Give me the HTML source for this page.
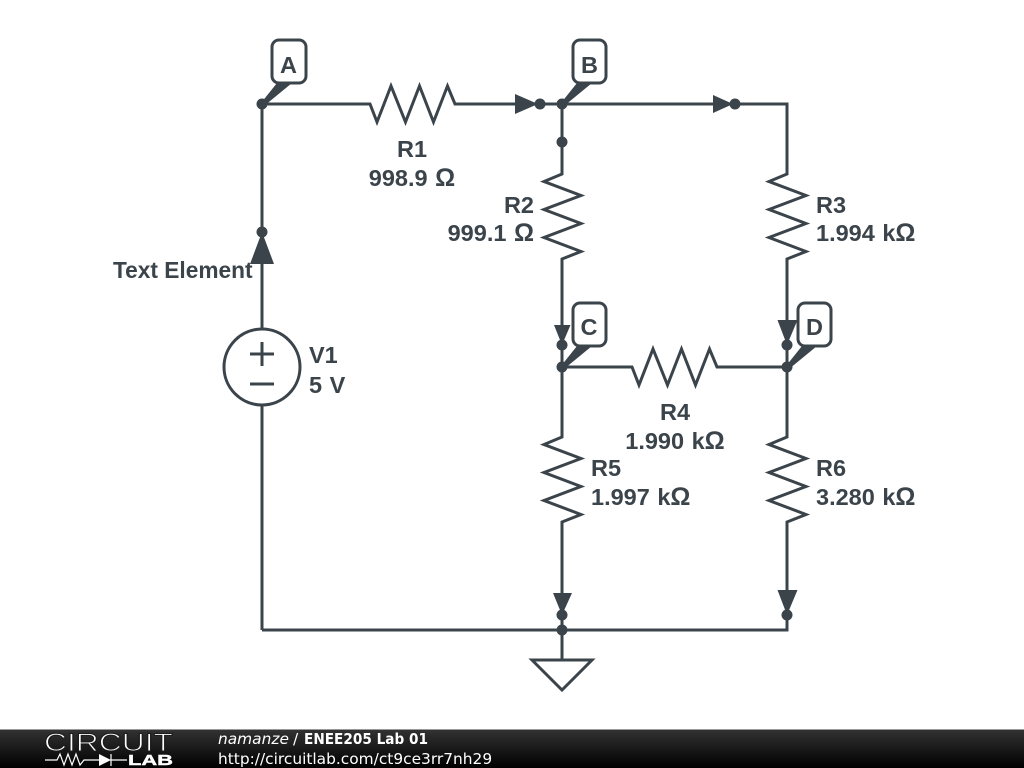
<!DOCTYPE html>
<html>
<head>
<meta charset="utf-8">
<style>
html,body{margin:0;padding:0;background:#fff;width:1024px;height:768px;overflow:hidden}
svg{display:block}
.w{fill:none;stroke:#3b444b;stroke-width:3;stroke-linejoin:miter}
.f{fill:#3b444b;stroke:none}
.t{font-family:"Liberation Sans",sans-serif;font-weight:bold;font-size:23.500px;fill:#3b444b;word-spacing:1px}
.o{font-size:25px}
.m{text-anchor:middle}
.ft{font-family:"DejaVu Sans",sans-serif;font-size:15.4px;fill:#fff}
</style>
</head>
<body>
<svg width="1024" height="768" viewBox="0 0 1024 768" xmlns="http://www.w3.org/2000/svg">
<defs>
<linearGradient id="bar" x1="0" y1="0" x2="0" y2="1">
<stop offset="0" stop-color="#333"/><stop offset="1" stop-color="#000"/>
</linearGradient>
</defs>
<rect width="1024" height="768" fill="#fff"/>

<!-- wires -->
<path class="w" d="M262 630V104H370L377 122L391 86L405.500 122L419.500 86L433.500 122L447.500 86L455 104H787V174L769 181.500L806 195.500L769 209.500L806 223.500L769 237.500L806 251.500L787 259V437L769 444.500L806 458.500L769 472.500L806 486.500L769 500.500L806 514.500L787 522V630H262"/>
<path class="w" d="M562 104V174L544 181.500L581 195.500L544 209.500L581 223.500L544 237.500L581 251.500L562 259V437L544 444.500L581 458.500L544 472.500L581 486.500L544 500.500L581 514.500L562 522V660"/>
<path class="w" d="M562 367H632L639 385L653 349L667.500 385L681.500 349L695.500 385L709.500 349L717 367H787"/>
<path class="w" d="M532 660H592L562 690Z"/>

<!-- voltage source -->
<circle cx="262" cy="367" r="38" fill="#fff" stroke="#3b444b" stroke-width="3"/>
<path class="w" d="M250 354H274M262 342V366M250 384H274"/>

<!-- probe dots -->
<g class="f">
<circle cx="262" cy="104" r="5.500"/><circle cx="562" cy="104" r="5.500"/>
<circle cx="540" cy="104" r="5.500"/><circle cx="735" cy="104" r="5.500"/>
<circle cx="562" cy="142" r="5.500"/><circle cx="262" cy="232" r="5.500"/>
<circle cx="562" cy="345" r="5.500"/><circle cx="787" cy="345" r="5.500"/>
<circle cx="562" cy="367" r="5.500"/><circle cx="787" cy="367" r="5.500"/>
<circle cx="562" cy="615" r="5.500"/><circle cx="787" cy="615" r="5.500"/>
<circle cx="562" cy="630" r="5.500"/>
<!-- arrowheads -->
<path d="M515 94L538 104L515 114Z"/>
<path d="M713 95L733 104L713 113Z"/>
<path d="M262 232L274 264H250Z"/>
<path d="M554 325H570.500L562 345Z"/>
<path d="M777.500 320H797.500L787 345Z"/>
<path d="M553 593H572L562 615Z"/>
<path d="M777.500 590H797.500L787 615Z"/>
</g>

<!-- node tags -->
<g>
<path class="f" d="M261 103L277 83H292L264 106Z"/>
<rect x="272" y="40" width="34" height="43" rx="7" fill="#fff" stroke="#3b444b" stroke-width="3"/>
<text class="t m" x="288.500" y="73">A</text>
<path class="f" d="M561 103L577 83H592L564 106Z"/>
<rect x="573" y="40" width="33" height="43" rx="7" fill="#fff" stroke="#3b444b" stroke-width="3"/>
<text class="t m" x="589.500" y="73">B</text>
<path class="f" d="M561 366L577 346H592L564 369Z"/>
<rect x="573" y="303" width="33" height="43" rx="7" fill="#fff" stroke="#3b444b" stroke-width="3"/>
<text class="t m" x="589" y="335">C</text>
<path class="f" d="M786 366L802 346H817L789 369Z"/>
<rect x="798" y="303" width="33" height="43" rx="7" fill="#fff" stroke="#3b444b" stroke-width="3"/>
<text class="t m" x="814.500" y="335">D</text>
</g>

<!-- labels -->
<text class="t m" x="412" y="157">R1</text>
<text class="t m" x="412" y="186">998.9 <tspan class="o">Ω</tspan></text>
<text class="t" x="534" y="213" text-anchor="end">R2</text>
<text class="t" x="534" y="241" text-anchor="end">999.1 <tspan class="o">Ω</tspan></text>
<text class="t" x="816" y="213">R3</text>
<text class="t" x="816" y="241">1.994 k<tspan class="o">Ω</tspan></text>
<text class="t m" x="675" y="420">R4</text>
<text class="t m" x="675" y="449">1.990 k<tspan class="o">Ω</tspan></text>
<text class="t" x="591" y="476">R5</text>
<text class="t" x="591" y="505">1.997 k<tspan class="o">Ω</tspan></text>
<text class="t" x="816" y="476">R6</text>
<text class="t" x="816" y="505">3.280 k<tspan class="o">Ω</tspan></text>
<text class="t" x="309" y="363">V1</text>
<text class="t" x="309" y="393">5 V</text>
<text class="t" x="113" y="278" style="font-size:22.700px;word-spacing:0">Text Element</text>

<!-- footer -->
<rect x="0" y="729" width="1024" height="39" fill="url(#bar)"/>
<rect x="0" y="729" width="1024" height="1" fill="#999"/>
<text x="44" y="751" font-family="Liberation Sans,sans-serif" font-size="25" fill="#fff" stroke="#1c1c1c" stroke-width="1" textLength="129" lengthAdjust="spacingAndGlyphs">CIRCUIT</text>
<path d="M45 760H57L60 754L64 765L68 754L72 765L76 754L80 765L84 760H99M110 760H127M111 754V766" fill="none" stroke="#fff" stroke-width="1.200"/>
<path d="M99 754L111 760L99 766Z" fill="#fff"/>
<text x="128" y="765" font-family="Liberation Sans,sans-serif" font-weight="bold" font-size="14.500" fill="#fff" stroke="#fff" stroke-width="0.400" textLength="45" lengthAdjust="spacingAndGlyphs">LAB</text>
<text class="ft" x="218" y="744" style="font-style:italic">namanze</text>
<text class="ft" x="293" y="744">/</text>
<text class="ft" x="304" y="744" style="font-weight:bold" textLength="124" lengthAdjust="spacingAndGlyphs">ENEE205 Lab 01</text>
<text class="ft" x="218" y="764">http://circuitlab.com/ct9ce3rr7nh29</text>
</svg>
</body>
</html>
